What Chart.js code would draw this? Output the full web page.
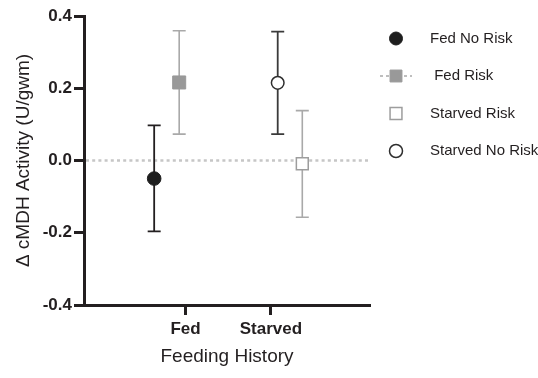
<!DOCTYPE html>
<html><head><meta charset="utf-8">
<script src="https://cdn.jsdelivr.net/npm/chart.js@4"></script>
<style>html,body{margin:0;padding:0;background:#fff;}#wrap{width:538px;height:378px;}</style>
</head><body><div id="wrap"><canvas id="c" width="538" height="378"></canvas></div>
<script>
// ---- data ----
const categories = ['Fed', 'Starved'];
const categoryPositions = [1, 2];
const seriesNames = ['Fed No Risk', ' Fed Risk', 'Starved Risk', 'Starved No Risk'];
const seriesCategory = ['Fed', 'Fed', 'Starved', 'Starved'];
const seriesMean = [-0.05, 0.216, -0.009, 0.215];
const seriesUpper = [0.097, 0.359, 0.138, 0.357];
const seriesLower = [-0.196, 0.073, -0.157, 0.073];
const yTicks = [-0.4, -0.2, 0.0, 0.2, 0.4];
const xTitle = 'Feeding History';
const yTitle = '\u0394 cMDH Activity (U/gwm)';

// ---- styles ----
const FONT = 'Liberation Sans, Arial, Helvetica, sans-serif';
const INK = '#231f20';
const styles = [
  {pointStyle: 'circle', radius: 6.8, bg: '#1e1e1e', border: '#1e1e1e', bw: 1, err: '#231f20', ew: 1.8, dodge: -0.368},
  {pointStyle: 'rect', radius: 9.2, bg: '#999999', border: '#999999', bw: 1, err: '#a9a9a9', ew: 1.6, dodge: -0.075},
  {pointStyle: 'rect', radius: 8.4, bg: '#ffffff', border: '#9d9d9d', bw: 1.5, err: '#a9a9a9', ew: 1.6, dodge: 0.367},
  {pointStyle: 'circle', radius: 6.3, bg: '#ffffff', border: '#2e2e2e', bw: 1.5, err: '#3a3a3a', ew: 1.8, dodge: 0.079}
];

const datasets = seriesNames.map((name, i) => ({
  label: name.trim(),
  data: [{x: categoryPositions[categories.indexOf(seriesCategory[i])] + styles[i].dodge, y: seriesMean[i]}],
  pointStyle: styles[i].pointStyle,
  pointRadius: styles[i].radius,
  pointHoverRadius: styles[i].radius,
  backgroundColor: styles[i].bg,
  borderColor: styles[i].border,
  pointBorderWidth: styles[i].bw,
  showLine: false
}));

const errorBars = {
  id: 'errorBars',
  beforeDatasetsDraw(chart) {
    const {ctx, scales: {y}, chartArea} = chart;
    ctx.save();
    const y0 = y.getPixelForValue(0);
    ctx.strokeStyle = '#c6c6c6';
    ctx.lineWidth = 2.5;
    ctx.setLineDash([3, 3.2]);
    ctx.beginPath();
    ctx.moveTo(chartArea.left + 2, y0);
    ctx.lineTo(chartArea.right, y0);
    ctx.stroke();
    ctx.setLineDash([]);
    chart.data.datasets.forEach((ds, i) => {
      const px = chart.getDatasetMeta(i).data[0].x;
      const yt = y.getPixelForValue(seriesUpper[i]);
      const yb = y.getPixelForValue(seriesLower[i]);
      ctx.strokeStyle = styles[i].err;
      ctx.lineWidth = styles[i].ew;
      ctx.beginPath();
      ctx.moveTo(px, yt); ctx.lineTo(px, yb);
      ctx.moveTo(px - 6.5, yt); ctx.lineTo(px + 6.5, yt);
      ctx.moveTo(px - 6.5, yb); ctx.lineTo(px + 6.5, yb);
      ctx.stroke();
    });
    ctx.restore();
  }
};

const legendPlugin = {
  id: 'customLegend',
  afterDraw(chart) {
    const ctx = chart.ctx;
    ctx.save();
    const mx = 396, tx = 430, y0 = 38.5, step = 37.5;
    seriesNames.forEach((name, i) => {
      const yy = y0 + i * step;
      const s = styles[i];
      if (i === 1) {
        ctx.strokeStyle = '#a9a9a9';
        ctx.lineWidth = 1.5;
        ctx.setLineDash([3, 3]);
        ctx.beginPath(); ctx.moveTo(380, yy); ctx.lineTo(412, yy); ctx.stroke();
        ctx.setLineDash([]);
      }
      ctx.fillStyle = s.bg;
      ctx.strokeStyle = s.border;
      ctx.lineWidth = s.bw;
      Chart.helpers.drawPoint(ctx, {pointStyle: s.pointStyle, radius: s.pointStyle === 'rect' ? 8.4 : 6.5, rotation: 0, borderWidth: s.bw}, mx, yy);
      ctx.fillStyle = INK;
      ctx.font = '15px ' + FONT;
      ctx.textAlign = 'left';
      ctx.textBaseline = 'middle';
      ctx.fillText(name, tx, yy);
    });
    ctx.restore();
  }
};

new Chart(document.getElementById('c'), {
  type: 'scatter',
  data: {datasets},
  options: {
    responsive: false,
    animation: false,
    devicePixelRatio: 1,
    layout: {padding: {top: 16, right: 168, left: 0, bottom: 0}},
    plugins: {legend: {display: false}, tooltip: {enabled: false}},
    scales: {
      x: {
        type: 'linear', min: -0.19, max: 3.16,
        afterBuildTicks(s) { s.ticks = categoryPositions.map(v => ({value: v})); },
        afterFit(s) { s.height = 73; },
        ticks: {
          callback: (v, idx) => categories[idx],
          font: {family: FONT, size: 17, weight: 'bold'}, color: INK, padding: 4,
          maxRotation: 0, autoSkip: false
        },
        grid: {drawOnChartArea: false, drawTicks: true, tickLength: 10, tickWidth: 3, tickColor: INK},
        border: {display: true, color: INK, width: 3},
        title: {display: true, text: xTitle, font: {family: FONT, size: 19}, color: INK, padding: {top: 0, bottom: 10}}
      },
      y: {
        min: -0.4, max: 0.4,
        afterBuildTicks(s) { s.ticks = yTicks.map(v => ({value: v})); },
        afterFit(s) { s.width = 84; },
        ticks: {
          callback: v => Number(v).toFixed(1),
          font: {family: FONT, size: 17, weight: 'bold'}, color: INK, padding: 2
        },
        grid: {drawOnChartArea: false, drawTicks: true, tickLength: 10, tickWidth: 3, tickColor: INK},
        border: {display: true, color: INK, width: 3},
        title: {display: true, text: yTitle, font: {family: FONT, size: 19}, color: INK, padding: {top: 12, bottom: 0}}
      }
    }
  },
  plugins: [errorBars, legendPlugin]
});
</script></body></html>
